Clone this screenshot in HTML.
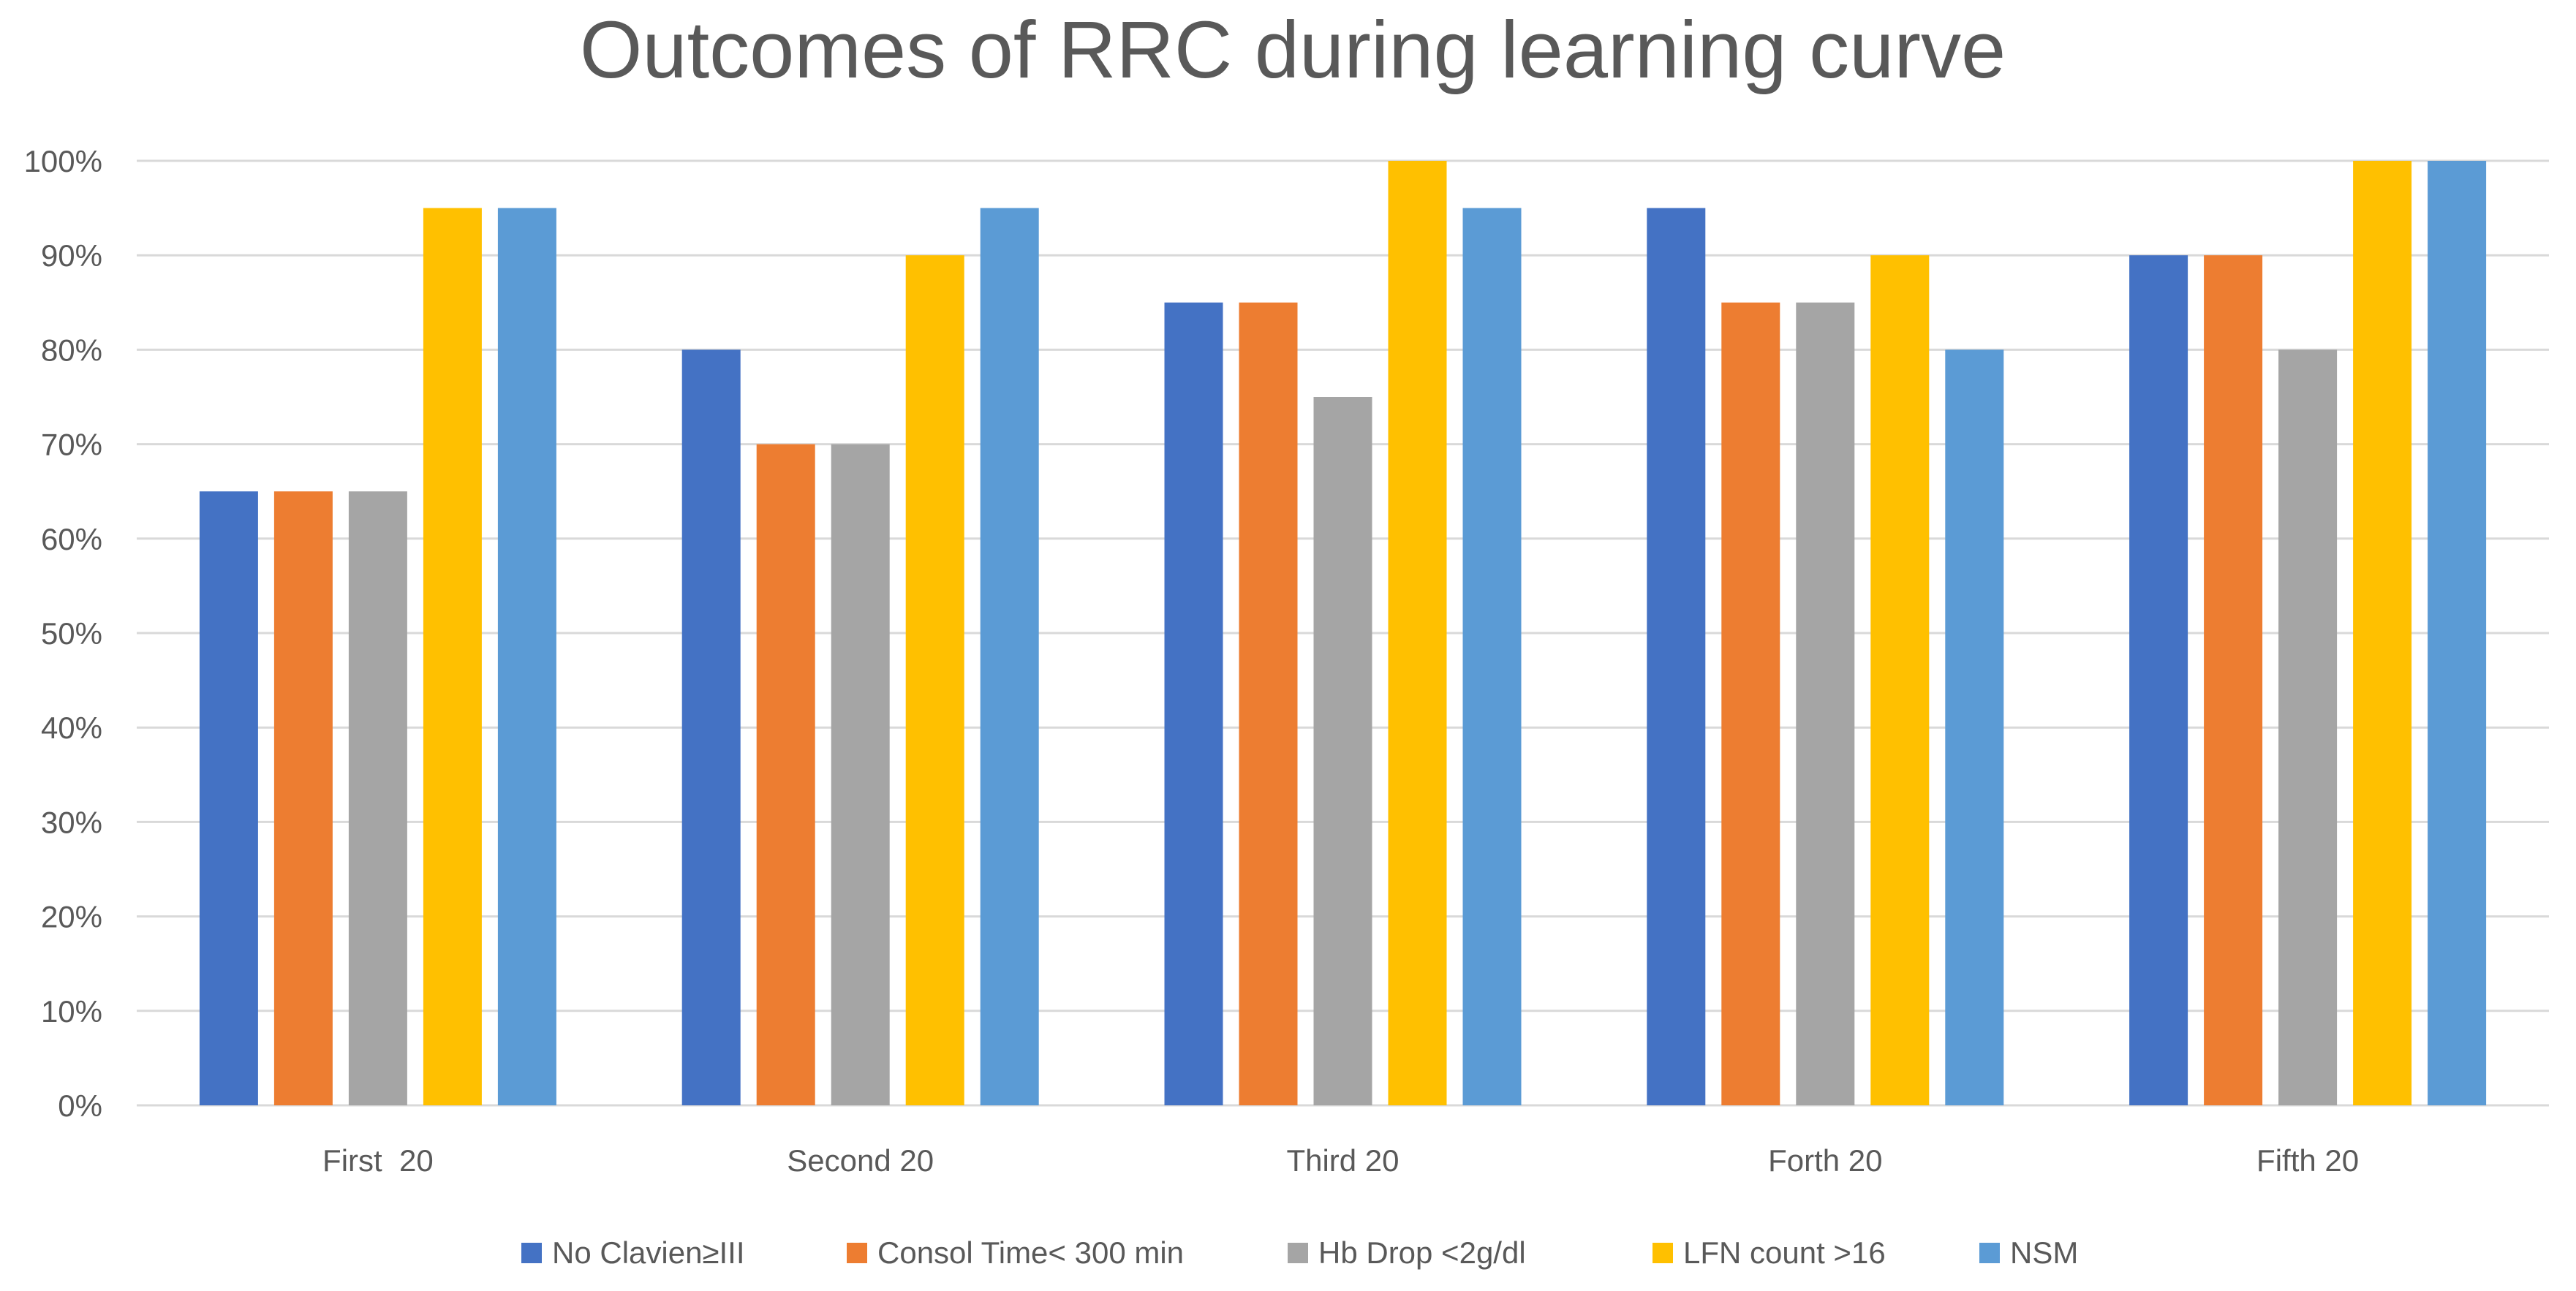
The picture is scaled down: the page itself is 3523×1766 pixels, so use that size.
<!DOCTYPE html>
<html><head><meta charset="utf-8"><style>
body{margin:0;background:#fff;}
svg{display:block;font-family:"Liberation Sans",sans-serif;}
</style></head><body>
<svg id="chart" width="3523" height="1766" viewBox="0 0 3523 1766">
<text x="1768" y="106" text-anchor="middle" font-size="110" fill="#595959">Outcomes of RRC during learning curve</text>
<g id="grid"></g><g id="bars"></g><g id="xlabels"></g><g id="legend"></g>
</svg>
<script>
const categories=["First  20","Second 20","Third 20","Forth 20","Fifth 20"];
const seriesNames=["No Clavien\u2265III","Consol Time< 300 min","Hb Drop <2g/dl","LFN count >16","NSM"];
const s1=[65,80,85,95,90];
const s2=[65,70,85,85,90];
const s3=[65,70,75,85,80];
const s4=[95,90,100,90,100];
const s5=[95,95,95,80,100];
const ticks=[0,10,20,30,40,50,60,70,80,90,100];
const colors=["#4472C4","#ED7D31","#A5A5A5","#FFC000","#5B9BD5"];
const series=[s1,s2,s3,s4,s5];
const NS="http://www.w3.org/2000/svg";
const X0=187,X1=3486,Y0=1512,Y1=220;
const y=v=>Y0-(v/100)*(Y0-Y1);
const cw=(X1-X0)/categories.length;
const bw=80,gap=22,groupW=5*bw+4*gap;
function mk(t,a,p){const e=document.createElementNS(NS,t);for(const k in a)e.setAttribute(k,a[k]);p.appendChild(e);return e;}
const grid=document.getElementById('grid');
ticks.forEach(t=>{
 const l=mk('line',{x1:X0,x2:X1,y1:y(t),y2:y(t),stroke:'#D9D9D9','stroke-width':3},grid);
 
 
 const tx=mk('text',{x:140,y:y(t)+15,'text-anchor':'end','font-size':42,fill:'#595959'},grid);
 tx.textContent=t+'%';
 
 
});
const bars=document.getElementById('bars'),xl=document.getElementById('xlabels');
categories.forEach((c,i)=>{
 const gx=X0+i*cw+(cw-groupW)/2;
 series.forEach((s,j)=>{
  const r=mk('rect',{x:gx+j*(bw+gap),y:y(s[i]),width:bw,height:Y0-y(s[i]),fill:colors[j]},bars);
  
  
 });
 const t=mk('text',{x:X0+i*cw+cw/2,y:1602,'text-anchor':'middle','font-size':42,fill:'#595959',style:'white-space:pre'},xl);
 t.textContent=c;
 
 
});
const lg=document.getElementById('legend');
const lx=[713,1158,1761,2260,2707];
seriesNames.forEach((n,j)=>{
 const r=mk('rect',{x:lx[j],y:1700,width:28,height:28,fill:colors[j]},lg);
 
 
 const t=mk('text',{x:lx[j]+42,y:1728,'font-size':42,fill:'#595959'},lg);
 t.textContent=n;
 
 
});
</script>
</body></html>
